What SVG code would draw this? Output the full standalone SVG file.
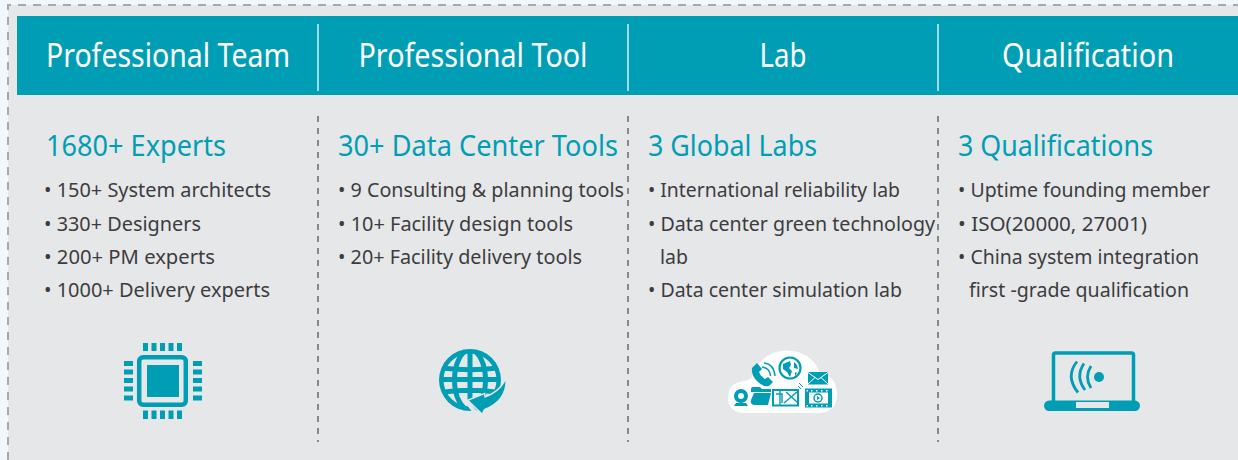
<svg xmlns="http://www.w3.org/2000/svg" width="1238" height="460" viewBox="0 0 1238 460">
<style>
text{font-family:"Noto Sans","Open Sans","Liberation Sans",sans-serif}
.h{font-size:33px;fill:#fff;text-anchor:middle}
.t{font-size:29.500px;fill:#009eb5}
.b{font-size:20px;fill:#3c3c3e}
.sep{stroke:#68696b;stroke-width:1.500;stroke-dasharray:6 6;fill:none}
.i{fill:#009eb5}
.il{fill:none;stroke:#009eb5}
.g{fill:#e6e7e9}
</style>
<defs>
<clipPath id="gc"><circle cx="470" cy="380" r="28"/></clipPath>
</defs>
<rect width="1238" height="460" fill="#f0f8fd"/>
<rect x="8" y="5" width="1230" height="455" fill="#e6e7e9"/>
<path d="M8 460V5H1238" fill="none" stroke="#a8a9ab" stroke-width="2" stroke-dasharray="8 7"/>
<rect x="17" y="16" width="1221" height="79" fill="#009eb5"/>
<g id="connectors">
<path d="M318 24V91M628 24V91M938 24V91" stroke="#d5eef2" stroke-width="1.500" fill="none"/>
<path class="sep" d="M318 116V442M628 116V442M938 116V442"/>
</g>
<g id="team">
<text class="h" x="168" y="67" textLength="244" lengthAdjust="spacingAndGlyphs">Professional Team</text>
<text class="t" x="46" y="156" textLength="180" lengthAdjust="spacingAndGlyphs">1680+ Experts</text>
<text class="b" x="44" y="197" textLength="227" lengthAdjust="spacingAndGlyphs">• 150+ System architects</text>
<text class="b" x="44" y="231" textLength="157" lengthAdjust="spacingAndGlyphs">• 330+ Designers</text>
<text class="b" x="44" y="264" textLength="171" lengthAdjust="spacingAndGlyphs">• 200+ PM experts</text>
<text class="b" x="44" y="297" textLength="226" lengthAdjust="spacingAndGlyphs">• 1000+ Delivery experts</text>
<g>
<path class="i" d="M143 343h5v8h-5zM151.500 343h5v8h-5zM160 343h5v8h-5zM168.500 343h5v8h-5zM177 343h5v8h-5zM143 410.500h5v8.500h-5zM151.500 410.500h5v8.500h-5zM160 410.500h5v8.500h-5zM168.500 410.500h5v8.500h-5zM177 410.500h5v8.500h-5zM124 361h9v5h-9zM124 369.500h9v5h-9zM124 378h9v5h-9zM124 386.500h9v5h-9zM124 395.500h9v5h-9zM193 361h9v5h-9zM193 369.500h9v5h-9zM193 378h9v5h-9zM193 386.500h9v5h-9zM193 395.500h9v5h-9z"/>
<rect class="il" x="139.200" y="357.200" width="46.600" height="47.600" rx="4" stroke-width="4.500"/>
<rect class="i" x="147" y="365" width="32" height="32"/>
</g>
</g>
<g id="tool">
<text class="h" x="473" y="67" textLength="229" lengthAdjust="spacingAndGlyphs">Professional Tool</text>
<text class="t" x="338" y="156" textLength="280" lengthAdjust="spacingAndGlyphs">30+ Data Center Tools</text>
<text class="b" x="338" y="197" textLength="286" lengthAdjust="spacingAndGlyphs">• 9 Consulting &amp; planning tools</text>
<text class="b" x="338" y="231" textLength="235" lengthAdjust="spacingAndGlyphs">• 10+ Facility design tools</text>
<text class="b" x="338" y="264" textLength="244" lengthAdjust="spacingAndGlyphs">• 20+ Facility delivery tools</text>
<g>
<circle class="i" cx="470" cy="380" r="31"/>
<circle class="g" cx="470" cy="380" r="26.500"/>
<g clip-path="url(#gc)" class="il" stroke-width="5">
<path d="M470 349V411M438 367.500Q470 372 502 367.500M438 379.500H502M440 392.500Q470 388 500 392.500"/>
<ellipse cx="470" cy="380" rx="15.500" ry="30"/>
</g>
<path stroke="#e6e7e9" stroke-width="4" d="M461 395l14 17" fill="none"/>
<path class="i" stroke="#e6e7e9" stroke-width="3" paint-order="stroke" d="M505.500 381Q505 401 484 409L482 413 469 400.500 484 394.500 484.500 398Q499 393 505.500 381z"/>
</g>
</g>
<g id="lab">
<text class="h" x="783" y="67" textLength="47" lengthAdjust="spacingAndGlyphs">Lab</text>
<text class="t" x="648" y="156" textLength="169" lengthAdjust="spacingAndGlyphs">3 Global Labs</text>
<text class="b" x="648" y="197" textLength="252" lengthAdjust="spacingAndGlyphs">• International reliability lab</text>
<text class="b" x="648" y="231" textLength="287" lengthAdjust="spacingAndGlyphs">• Data center green technology</text>
<text class="b" x="660" y="264" textLength="28" lengthAdjust="spacingAndGlyphs">lab</text>
<text class="b" x="648" y="297" textLength="254" lengthAdjust="spacingAndGlyphs">• Data center simulation lab</text>
<g>
<path fill="#fff" d="M745 413q-17 0-17-16q0-14 16-16q6-1 8-4q2-13 17-22q15-8 32-2q13 5 18 18q2 3 5 3q12 3 13 20q0 19-20 19z"/>
<path class="i" d="M752 368l5-5 5 6-3 3q1 4 6 7l3-2 5 5-4 4q-6 1-11-4q-7-6-6-14z"/>
<path class="il" stroke-width="1.500" d="M762 367q8 1 8.500 9M764 363q10 1 11 13"/>
<circle class="il" cx="790" cy="368" r="10.500" stroke-width="2.200"/>
<path class="i" d="M783 364l7-3 1 4-2 3 3 3-2 6-3-5-4-3zM794 362l3 3 1 4-4-1zM795 372l2 1-2 3z"/>
<rect class="i" x="808" y="372" width="20" height="12.500"/>
<path stroke="#fff" stroke-width="1" fill="none" d="M808 372.500l10 7 10-7M808 384l7-6.500M828 384l-7-6.500"/>
<circle class="il" cx="741" cy="396" r="5" stroke-width="4"/>
<path class="i" d="M736 403h10l2 3h-14z"/>
<path class="i" d="M751 392v-3q0-2 2-2h7l2 2h9v3h-2zM754 393h17l-3 12h-14q-4-1-3-5z"/>
<rect x="773" y="390" width="25" height="15.500" fill="#fff" stroke="#009eb5" stroke-width="2"/>
<path class="il" stroke-width="1.400" d="M776 394h6v9M780 390v15M784 403l13-11M786 392l11 10"/>
<path class="il" stroke-width="1" d="M798 386l3 3M799 383l4 4"/>
<rect class="i" x="805" y="388.500" width="27" height="19"/>
<rect x="809" y="392.500" width="19" height="11" fill="#fff"/>
<path d="M806.500 390h1.500v1.500h-1.500zM811 390h1.500v1.500h-1.500zM816 390h1.500v1.500h-1.500zM821 390h1.500v1.500h-1.500zM826 390h1.500v1.500h-1.500zM806.500 405h1.500v1.500h-1.500zM811 405h1.500v1.500h-1.500zM816 405h1.500v1.500h-1.500zM821 405h1.500v1.500h-1.500zM826 405h1.500v1.500h-1.500z" fill="#fff"/>
<circle class="il" cx="818" cy="398" r="4" stroke-width="1.500"/>
<path class="i" d="M817 396l3 2-3 2z"/>
</g>
</g>
<g id="qualification">
<text class="h" x="1088" y="67" textLength="172" lengthAdjust="spacingAndGlyphs">Qualification</text>
<text class="t" x="958" y="156" textLength="195" lengthAdjust="spacingAndGlyphs">3 Qualifications</text>
<text class="b" x="958" y="197" textLength="252" lengthAdjust="spacingAndGlyphs">• Uptime founding member</text>
<text class="b" x="958" y="231" textLength="189" lengthAdjust="spacingAndGlyphs">• ISO(20000, 27001)</text>
<text class="b" x="958" y="264" textLength="241" lengthAdjust="spacingAndGlyphs">• China system integration</text>
<text class="b" x="969" y="297" textLength="220" lengthAdjust="spacingAndGlyphs">first -grade qualification</text>
<g>
<path class="il" stroke-width="3.500" d="M1053.500 401V355q0-2 2-2h76q2 0 2 2V401"/>
<rect class="i" x="1044" y="400.500" width="96" height="10.500" rx="5.200"/>
<rect x="1076" y="402" width="33" height="6" fill="#e6e7e9"/>
<circle class="i" cx="1099" cy="377" r="5"/>
<path class="il" stroke-width="2.800" d="M1091 366q-7 11 0 22M1084 363.500q-9 13 1 26.500M1077 361.500q-12 15 1 31"/>
</g>
</g>
</svg>
